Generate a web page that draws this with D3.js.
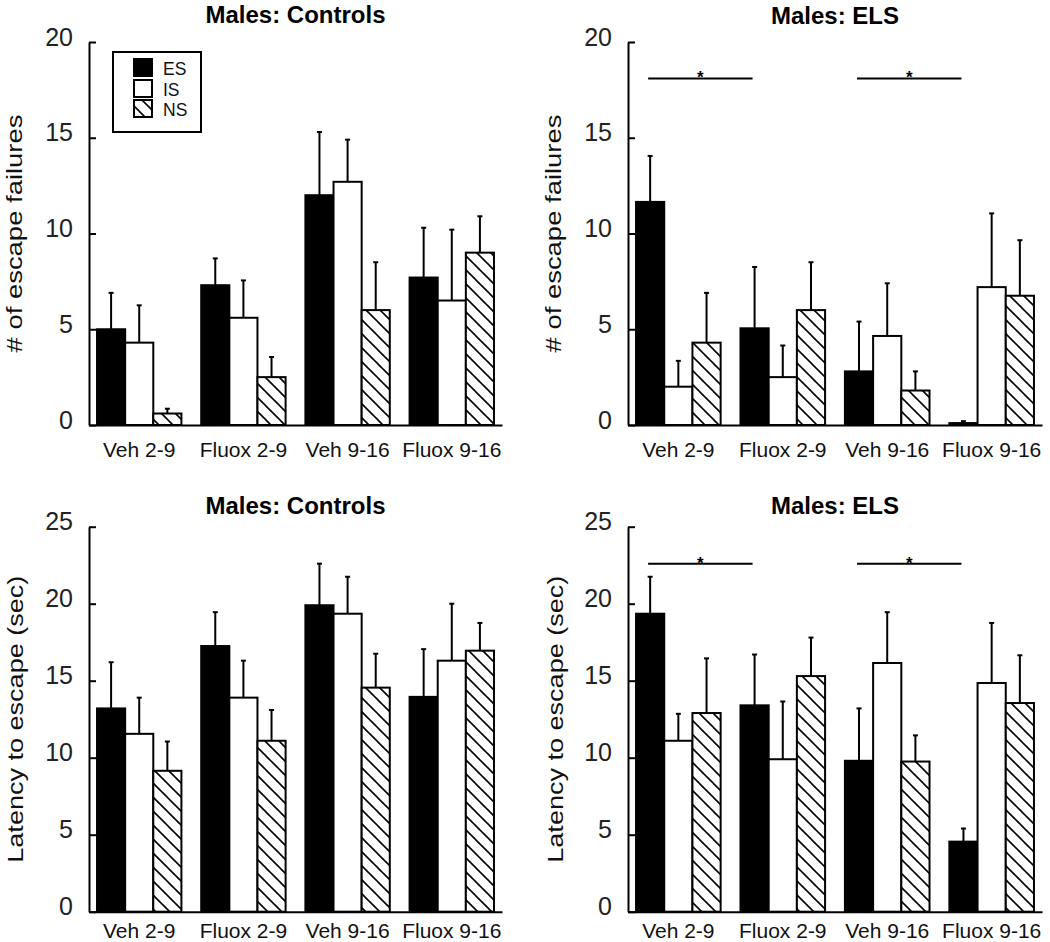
<!DOCTYPE html>
<html>
<head>
<meta charset="utf-8">
<script src="https://cdn.jsdelivr.net/npm/d3@7"></script>
<style>
  html, body { margin: 0; padding: 0; background: #fff; }
  svg { display: block; font-family: "Liberation Sans", Arial, sans-serif; }
</style>
</head>
<body>
<svg id="chart" width="1050" height="942"></svg>
<script>
// ---------- data ----------
const categories = ["Veh 2-9", "Fluox 2-9", "Veh 9-16", "Fluox 9-16"];
const series = ["ES", "IS", "NS"];

// # of escape failures — Controls
const failCtrlES = [5.0, 7.3, 12.0, 7.7];
const failCtrlIS = [4.3, 5.6, 12.7, 6.5];
const failCtrlNS = [0.6, 2.5, 6.0, 9.0];
const failCtrlErrES = [1.9, 1.4, 3.3, 2.6];
const failCtrlErrIS = [1.95, 1.95, 2.2, 3.7];
const failCtrlErrNS = [0.25, 1.05, 2.5, 1.9];

// # of escape failures — ELS
const failElsES = [11.65, 5.05, 2.8, 0.1];
const failElsIS = [2.0, 2.5, 4.65, 7.2];
const failElsNS = [4.3, 6.0, 1.8, 6.75];
const failElsErrES = [2.4, 3.2, 2.6, 0.1];
const failElsErrIS = [1.35, 1.65, 2.75, 3.85];
const failElsErrNS = [2.6, 2.5, 1.0, 2.9];

// Latency to escape — Controls
const latCtrlES = [13.2, 17.25, 19.9, 13.95];
const latCtrlIS = [11.55, 13.9, 19.35, 16.3];
const latCtrlNS = [9.15, 11.1, 14.55, 16.95];
const latCtrlErrES = [3.0, 2.2, 2.7, 3.1];
const latCtrlErrIS = [2.35, 2.4, 2.4, 3.7];
const latCtrlErrNS = [1.9, 2.0, 2.2, 1.8];

// Latency to escape — ELS
const latElsES = [19.35, 13.4, 9.8, 4.55];
const latElsIS = [11.1, 9.9, 16.15, 14.85];
const latElsNS = [12.9, 15.3, 9.75, 13.55];
const latElsErrES = [2.4, 3.3, 3.4, 0.85];
const latElsErrIS = [1.75, 3.75, 3.3, 3.9];
const latElsErrNS = [3.55, 2.5, 1.7, 3.1];

const failTicks = [0, 5, 10, 15, 20];
const latTicks = [0, 5, 10, 15, 20, 25];

// significance comparisons (ES bars) in ELS panels
const sigPairs = [["Veh 2-9", "Fluox 2-9"], ["Veh 9-16", "Fluox 9-16"]];
const sigLevelFail = 18.1;
const sigLevelLat = 22.6;

// ---------- drawing ----------
const svg = d3.select("#chart");

const defs = svg.append("defs");
const pat = defs.append("pattern")
  .attr("id", "hatch")
  .attr("patternUnits", "userSpaceOnUse")
  .attr("width", 14).attr("height", 14);
pat.append("rect").attr("width", 14).attr("height", 14).attr("fill", "#fff");
pat.append("path")
  .attr("d", "M-7,7 L7,21 M0,0 L14,14 M7,-7 L21,7")
  .attr("stroke", "#000").attr("stroke-width", 1.6);

const fills = { ES: "#000", IS: "#fff", NS: "url(#hatch)" };

function panel(cfg) {
  const g = svg.append("g");
  const x0 = d3.scaleBand().domain(categories).range(cfg.xr)
    .paddingInner(0.19).paddingOuter(0.077);
  const x1 = d3.scaleBand().domain(series).range([0, x0.bandwidth()]).padding(0);
  const y = d3.scaleLinear().domain([0, cfg.ymax]).range(cfg.yr);

  const means = { ES: cfg.es, IS: cfg.is, NS: cfg.ns };
  const errs = { ES: cfg.eEs, IS: cfg.eIs, NS: cfg.eNs };

  const rows = [];
  categories.forEach((c, i) => series.forEach(s => rows.push({ c, s, v: means[s][i], e: errs[s][i] })));

  // error bars (drawn behind bars)
  const eb = g.append("g").attr("stroke", "#000").attr("stroke-width", 2);
  rows.forEach(d => {
    const cx = x0(d.c) + x1(d.s) + x1.bandwidth() / 2;
    eb.append("line").attr("x1", cx).attr("x2", cx).attr("y1", y(d.v)).attr("y2", y(d.v + d.e));
    eb.append("line").attr("x1", cx - 2.5).attr("x2", cx + 2.5).attr("y1", y(d.v + d.e)).attr("y2", y(d.v + d.e));
  });

  // bars
  g.append("g").selectAll("rect").data(rows).join("rect")
    .attr("x", d => x0(d.c) + x1(d.s))
    .attr("y", d => y(d.v))
    .attr("width", x1.bandwidth())
    .attr("height", d => y(0) - y(d.v))
    .attr("fill", d => fills[d.s])
    .attr("stroke", "#000").attr("stroke-width", 2);

  // y axis
  const ya = g.append("g").attr("transform", `translate(${cfg.xr[0]},0)`)
    .call(d3.axisLeft(y).tickValues(cfg.ticks).tickSize(-7).tickSizeOuter(0).tickPadding(16).tickFormat(d3.format("d")));
  ya.select(".domain").attr("stroke-width", 2);
  ya.selectAll(".tick line").attr("stroke-width", 2);
  ya.selectAll(".tick text").attr("font-size", 25).attr("fill", "#222").attr("y", -5)
    .attr("font-family", "Liberation Sans, Arial, sans-serif");

  // x axis
  const xa = g.append("g").attr("transform", `translate(0,${cfg.yr[0]})`)
    .call(d3.axisBottom(x0).tickSize(0).tickSizeOuter(0).tickPadding(cfg.xpad));
  xa.select(".domain").attr("stroke-width", 2);
  xa.selectAll(".tick text").attr("font-size", 21).attr("fill", "#111")
    .attr("font-family", "Liberation Sans, Arial, sans-serif");

  // title
  g.append("text")
    .attr("x", (cfg.xr[0] + cfg.xr[1]) / 2).attr("y", cfg.titleY)
    .attr("text-anchor", "middle").attr("font-size", 24).attr("font-weight", "bold")
    .text(cfg.title);

  // y label
  g.append("text")
    .attr("transform", `translate(${cfg.ylabX},${(cfg.yr[0] + cfg.yr[1]) / 2}) rotate(-90)`)
    .attr("text-anchor", "middle").attr("dy", "0.35em")
    .attr("font-size", 22).attr("fill", "#111")
    .attr("textLength", cfg.ylabLen).attr("lengthAdjust", "spacingAndGlyphs")
    .text(cfg.ylab);

  // significance
  if (cfg.sig !== undefined) {
    const sg = g.append("g");
    sigPairs.forEach(([a, b]) => {
      const xa1 = x0(a) + x1("ES") + x1.bandwidth() / 2 - 2;
      const xb1 = x0(b) + x1("ES") + x1.bandwidth() / 2 - 2;
      const ly = y(cfg.sig);
      sg.append("line").attr("x1", xa1).attr("x2", xb1).attr("y1", ly).attr("y2", ly)
        .attr("stroke", "#000").attr("stroke-width", 2);
      sg.append("text").attr("x", (xa1 + xb1) / 2).attr("y", ly + 5)
        .attr("text-anchor", "middle").attr("font-size", 17).attr("font-weight", "bold")
        .text("*");
    });
  }
  return g;
}

panel({ xr: [89, 502], yr: [425, 42], ymax: 20, ticks: failTicks, xpad: 17,
  es: failCtrlES, is: failCtrlIS, ns: failCtrlNS, eEs: failCtrlErrES, eIs: failCtrlErrIS, eNs: failCtrlErrNS,
  title: "Males: Controls", titleY: 23, ylab: "# of escape failures", ylabX: 14, ylabLen: 238 });

panel({ xr: [628, 1042], yr: [425, 42], ymax: 20, ticks: failTicks, xpad: 17,
  es: failElsES, is: failElsIS, ns: failElsNS, eEs: failElsErrES, eIs: failElsErrIS, eNs: failElsErrNS,
  title: "Males: ELS", titleY: 24, ylab: "# of escape failures", ylabX: 553, ylabLen: 238, sig: sigLevelFail });

panel({ xr: [89, 502], yr: [911.7, 526.7], ymax: 25, ticks: latTicks, xpad: 11,
  es: latCtrlES, is: latCtrlIS, ns: latCtrlNS, eEs: latCtrlErrES, eIs: latCtrlErrIS, eNs: latCtrlErrNS,
  title: "Males: Controls", titleY: 514, ylab: "Latency to escape (sec)", ylabX: 15, ylabLen: 287 });

panel({ xr: [628, 1042], yr: [911.7, 526.7], ymax: 25, ticks: latTicks, xpad: 11,
  es: latElsES, is: latElsIS, ns: latElsNS, eEs: latElsErrES, eIs: latElsErrIS, eNs: latElsErrNS,
  title: "Males: ELS", titleY: 514, ylab: "Latency to escape (sec)", ylabX: 555, ylabLen: 287, sig: sigLevelLat });

// legend (top-left panel)
const lg = svg.append("g");
lg.append("rect").attr("x", 113).attr("y", 52).attr("width", 88).attr("height", 80)
  .attr("fill", "#fff").attr("stroke", "#000").attr("stroke-width", 2);
const legendY = [59, 80, 100];
series.forEach((s, i) => {
  lg.append("rect").attr("x", 134).attr("y", legendY[i]).attr("width", 18).attr("height", 17)
    .attr("fill", fills[s]).attr("stroke", "#000").attr("stroke-width", 2);
  lg.append("text").attr("x", 163).attr("y", legendY[i] + 16).attr("font-size", 17.5).attr("fill", "#111")
    .text(s);
});
</script>
</body>
</html>
